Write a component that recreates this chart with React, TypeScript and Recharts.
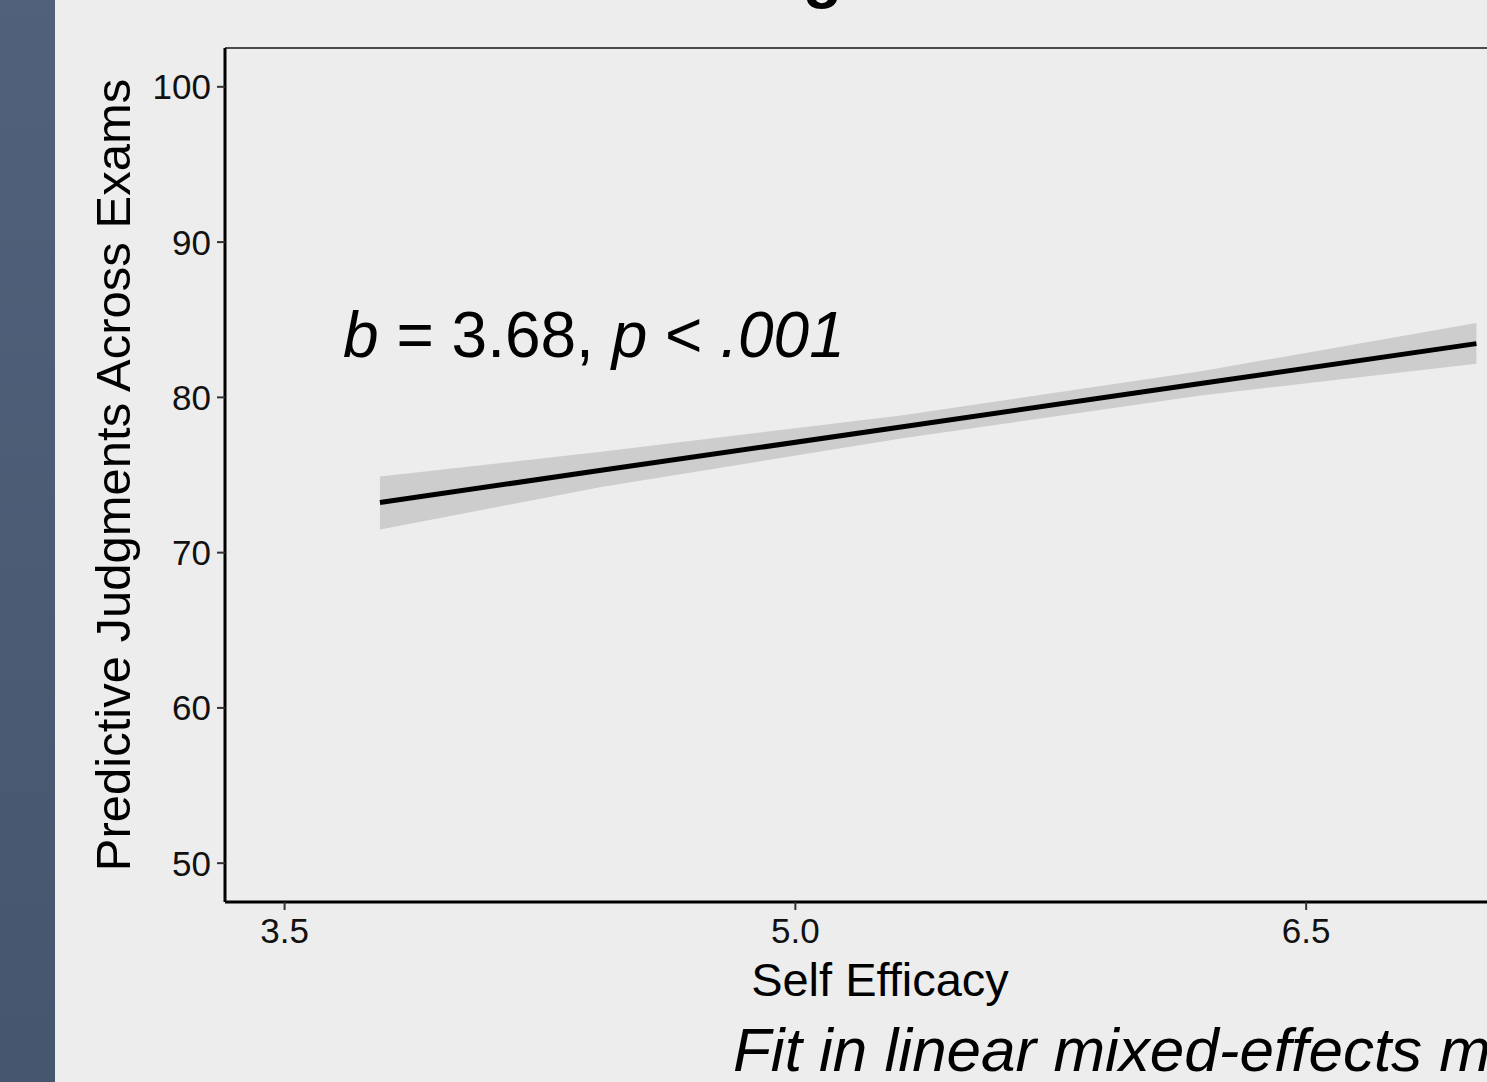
import {
  Area,
  ComposedChart,
  Label,
  Line,
  ReferenceLine,
  XAxis,
  YAxis,
} from "recharts";

const efficacy = [3.78, 4.43, 5.31, 6.19, 7.0];
// fitted predictive judgments
const fitted = [73.23, 75.3, 78.09, 80.89, 83.46];
// 95% band
const lower = [71.49, 74.22, 77.35, 80.12, 82.16];
const upper = [74.9, 76.5, 78.83, 81.68, 84.79];

const xTicks = [3.5, 5.0, 6.5];
const yTicks = [50, 60, 70, 80, 90, 100];

const FONT = '"Liberation Sans", Arial, Helvetica, sans-serif';

const rows = efficacy.map((x, i) => ({
  x,
  fit: fitted[i],
  band: [lower[i], upper[i]],
}));

export default function App() {
  return (
    <div
      style={{
        position: "fixed",
        left: 0,
        top: 0,
        width: 1487,
        height: 1082,
        overflow: "hidden",
        background: "#ededed",
        fontFamily: FONT,
      }}
    >
      <div
        style={{
          position: "absolute",
          left: 0,
          top: 0,
          width: 55,
          height: 1082,
          background: "linear-gradient(#51617b, #46566f)",
        }}
      />
      <div style={{ position: "absolute", left: 0, top: 0 }}>
        <ComposedChart
          width={1600}
          height={1082}
          data={rows}
          margin={{ top: 48, right: 64, bottom: 0, left: 0 }}
        >
          <XAxis
            type="number"
            dataKey="x"
            domain={[3.325, 7.175]}
            ticks={xTicks}
            tickFormatter={(v) => Number(v).toFixed(1)}
            height={180}
            tickSize={8}
            tickMargin={8}
            axisLine={{ stroke: "#000", strokeWidth: 3 }}
            tickLine={{ stroke: "#333", strokeWidth: 2 }}
            tick={{ fill: "#111", fontSize: 35, fontFamily: FONT }}
          >
            <Label
              content={() => (
                <text
                  x={880}
                  y={996}
                  textAnchor="middle"
                  fontSize={47}
                  fontFamily={FONT}
                  fill="#000"
                >
                  Self Efficacy
                </text>
              )}
            />
          </XAxis>
          <YAxis
            type="number"
            domain={[47.5, 102.5]}
            ticks={yTicks}
            width={225}
            tickSize={8}
            tickMargin={6}
            axisLine={{ stroke: "#000", strokeWidth: 3 }}
            tickLine={{ stroke: "#333", strokeWidth: 2 }}
            tick={{ fill: "#111", fontSize: 35, fontFamily: FONT }}
          >
            <Label
              content={() => (
                <text
                  x={130}
                  y={475}
                  transform="rotate(-90, 130, 475)"
                  textAnchor="middle"
                  fontSize={49}
                  fontFamily={FONT}
                  fill="#000"
                >
                  Predictive Judgments Across Exams
                </text>
              )}
            />
          </YAxis>
          <ReferenceLine y={102.5} stroke="#4a4a4a" strokeWidth={2} />
          <Area
            dataKey="band"
            type="linear"
            stroke="none"
            fill="#cdcdcd"
            fillOpacity={1}
            isAnimationActive={false}
          />
          <Line
            dataKey="fit"
            type="linear"
            stroke="#000"
            strokeWidth={5}
            dot={false}
            isAnimationActive={false}
          />
        </ComposedChart>
      </div>
      <svg
        width={1487}
        height={1082}
        style={{ position: "absolute", left: 0, top: 0, pointerEvents: "none" }}
        fontFamily={FONT}
      >
        <text x={803} y={-4} fontSize={64} fontWeight="bold" fill="#000">
          g
        </text>
        <text x={343} y={357} fontSize={64} fill="#000">
          <tspan fontStyle="italic">b</tspan>
          <tspan> = 3.68, </tspan>
          <tspan fontStyle="italic">p</tspan>
          <tspan> &lt; </tspan>
          <tspan fontStyle="italic">.001</tspan>
        </text>
        <text x={733} y={1071} fontSize={62} fontStyle="italic" fill="#000">
          Fit in linear mixed-effects model
        </text>
      </svg>
    </div>
  );
}
